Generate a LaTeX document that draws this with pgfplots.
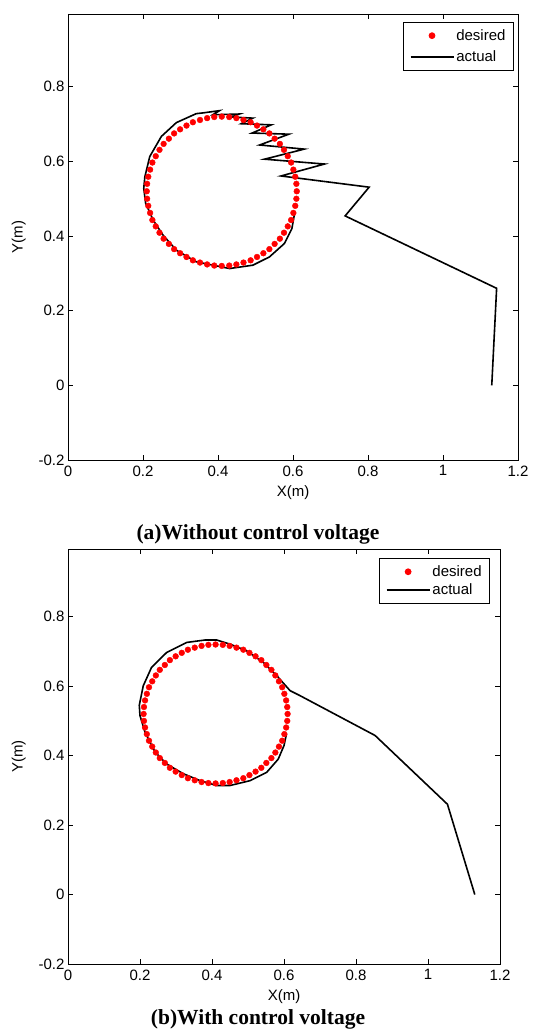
\documentclass[border=0pt]{standalone}
\usepackage{pgfplots}
\usepackage{pgfplotstable}
\pgfplotsset{compat=1.18}
\usepackage{fontspec}
\setmainfont{Liberation Sans}
\newfontfamily\timesfont{Liberation Serif}

\pgfplotstableread{
x y
0.610 0.520
0.609 0.540
0.606 0.559
0.601 0.578
0.595 0.597
0.586 0.614
0.576 0.631
0.565 0.647
0.551 0.661
0.537 0.675
0.521 0.686
0.504 0.696
0.487 0.705
0.468 0.711
0.449 0.716
0.430 0.719
0.410 0.720
0.390 0.719
0.371 0.716
0.352 0.711
0.333 0.705
0.316 0.696
0.299 0.686
0.283 0.675
0.269 0.661
0.255 0.647
0.244 0.631
0.234 0.614
0.225 0.597
0.219 0.578
0.214 0.559
0.211 0.540
0.210 0.520
0.211 0.500
0.214 0.481
0.219 0.462
0.225 0.443
0.234 0.426
0.244 0.409
0.255 0.393
0.269 0.379
0.283 0.365
0.299 0.354
0.316 0.344
0.333 0.335
0.352 0.329
0.371 0.324
0.390 0.321
0.410 0.320
0.430 0.321
0.449 0.324
0.468 0.329
0.487 0.335
0.504 0.344
0.521 0.354
0.537 0.365
0.551 0.379
0.565 0.393
0.576 0.409
0.586 0.426
0.595 0.443
0.601 0.462
0.606 0.481
0.609 0.500
}\desired

\pgfplotstableread{
x y
1.130 0.000
1.143 0.260
0.739 0.454
0.803 0.531
0.568 0.561
0.684 0.593
0.524 0.606
0.630 0.633
0.511 0.644
0.589 0.673
0.491 0.676
0.542 0.698
0.462 0.701
0.493 0.716
0.435 0.719
0.457 0.727
0.386 0.725
0.404 0.736
0.360 0.730
0.342 0.728
0.289 0.704
0.249 0.667
0.218 0.613
0.205 0.559
0.202 0.528
0.207 0.488
0.227 0.443
0.253 0.403
0.289 0.362
0.342 0.331
0.431 0.313
0.493 0.322
0.537 0.344
0.577 0.380
0.597 0.420
0.605 0.465
}\actualA

\pgfplotstableread{
x y
1.130 0.000
1.054 0.260
0.853 0.458
0.644 0.573
0.617 0.587
0.580 0.630
0.543 0.668
0.496 0.702
0.450 0.721
0.413 0.733
0.381 0.733
0.330 0.726
0.274 0.697
0.232 0.654
0.209 0.601
0.198 0.545
0.200 0.515
0.214 0.467
0.242 0.410
0.274 0.376
0.320 0.348
0.367 0.328
0.413 0.314
0.450 0.314
0.506 0.328
0.552 0.352
0.584 0.390
0.600 0.429
0.607 0.463
}\actualB

\pgfplotsset{
  dotlegend/.style={legend image code/.code={\path (0pt,0pt) (43pt,0pt); \draw[##1] plot coordinates {(21.5pt,0pt)};}},
  linelegend/.style={legend image code/.code={\draw[##1] (0pt,0pt) -- (43pt,0pt);}},
  traj/.style={
    scale only axis,
    xmin=0, xmax=1.2, ymin=-0.2, ymax=0.995,
    xtick={0,0.2,0.4,0.6,0.8,1,1.2},
    ytick={-0.2,0,0.2,0.4,0.6,0.8},
    tick align=inside,
    xtick pos=both, ytick pos=both,
    xticklabel pos=bottom, yticklabel pos=left,
    major tick length=5pt,
    tick style={line width=0.6pt, black},
    axis line style={line width=0.9pt},
    /pgf/number format/assume math mode=true,
    ticklabel style={font=\fontsize{15}{15}\selectfont},
    xticklabel style={yshift=-2pt},
    label style={font=\fontsize{15}{15}\selectfont},
    xlabel={X(m)}, ylabel={Y(m)},
    xlabel style={yshift=-3pt},
    ylabel style={yshift=6pt},
    legend cell align=left,
    legend style={font=\fontsize{15}{17}\selectfont, draw=black, line width=0.9pt,
      inner xsep=6pt, inner ysep=5pt},
  },
}

\begin{document}
\begin{tikzpicture}
\path[use as bounding box] (0,0) rectangle (533pt,-1035pt);

\begin{axis}[traj, at={(68pt,-14pt)}, anchor=north west,
  width=450pt, height=446pt,
  legend style={at={(0.991,0.982)}, anchor=north east, row sep=5pt}]
\addplot[only marks, mark=*, mark size=2.9pt, red, draw=red, fill=red, dotlegend]
  table[x=x,y=y] {\desired};
\addlegendentry{desired}
\addplot[black, line width=1.6pt, mark=none, linelegend]
  table[x=x,y=y] {\actualA};
\addlegendentry{actual}
\end{axis}

\node[font=\timesfont\bfseries\fontsize{21.5}{23}\selectfont] at (258pt,-534pt) {(a)Without control voltage};

\begin{axis}[traj, at={(68pt,-549pt)}, anchor=north west,
  width=432pt, height=415pt,
  legend style={at={(0.977,0.978)}, anchor=north east, row sep=2pt}]
\addplot[only marks, mark=*, mark size=2.9pt, red, draw=red, fill=red, dotlegend]
  table[x=x,y=y] {\desired};
\addlegendentry{desired}
\addplot[black, line width=1.6pt, mark=none, linelegend]
  table[x=x,y=y] {\actualB};
\addlegendentry{actual}
\end{axis}

\node[font=\timesfont\bfseries\fontsize{21.5}{23}\selectfont] at (258pt,-1019pt) {(b)With control voltage};
\end{tikzpicture}
\end{document}
